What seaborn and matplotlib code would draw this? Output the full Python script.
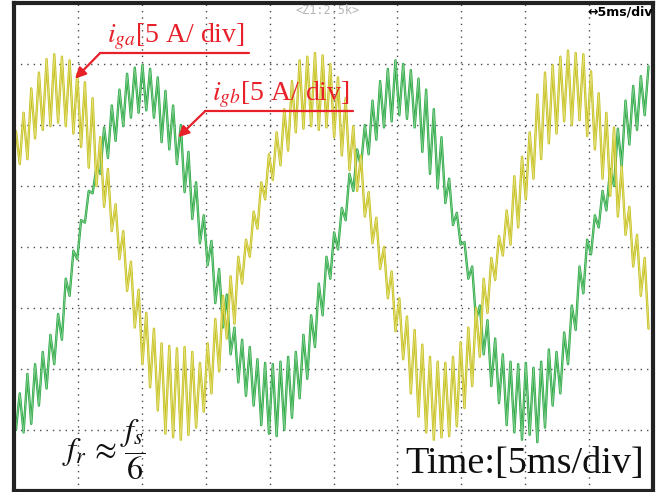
import numpy as np
import pandas as pd
import matplotlib
matplotlib.use('Agg')
import matplotlib.pyplot as plt
import matplotlib.patheffects as pe
import seaborn as sns

# 示波器采样：0.3 ms 一个点，从 0.15 ms 开始
t0_ms = 0.15
dt_ms = 0.3

# i_ga 读数 [A]（黄色）
i_ga = [
    9.5, 6.8, 11.0, 7.2, 13.0, 8.9, 14.3, 9.6, 15.4, 9.9,
    15.8, 10.2, 15.6, 9.9, 15.3, 9.3, 14.2, 8.2, 13.5, 6.5,
    12.2, 5.0, 9.0, 3.3, 6.4, 1.3, 3.5, -1.0, 1.3, -3.6,
    -1.2, -6.6, -3.5, -9.6, -5.4, -11.5, -6.7, -13.4, -7.9, -15.3,
    -8.1, -15.6, -8.3, -15.8, -8.2, -15.4, -8.6, -14.8, -9.5, -13.5,
    -7.9, -12.0, -5.9, -10.2, -4.0, -7.5, -2.4, -6.3, -0.8, -3.0,
    0.6, -0.8, 2.9, 1.5, 5.3, 3.9, 7.6, 5.5, 9.4, 6.7,
    11.3, 7.9, 13.6, 9.4, 15.3, 9.7, 15.6, 9.9, 15.9, 9.6,
    15.7, 9.8, 15.0, 9.0, 13.9, 7.5, 12.2, 6.3, 9.9, 4.6,
    7.5, 2.5, 4.5, 0.3, 2.4, -1.8, 0.0, -4.2, -2.0, -6.9,
    -4.2, -9.2, -5.7, -12.0, -6.8, -13.9, -8.0, -15.2, -9.0, -15.8,
    -9.4, -15.6, -9.5, -15.5, -9.0, -14.7, -7.8, -13.2, -6.6, -11.4,
    -5.0, -9.0, -2.6, -5.4, -0.9, -2.7, 0.9, -0.7, 3.0, 0.2,
    5.8, 1.6, 7.4, 3.9, 9.4, 5.6, 12.5, 7.2, 14.3, 8.5,
    14.9, 9.3, 15.6, 10.3, 16.1, 10.0, 15.9, 10.4, 15.8, 9.1,
    14.4, 8.0, 12.6, 5.6, 11.0, 4.2, 9.8, 2.5, 6.6, 1.0,
    3.3, -1.6, 1.0, -4.0, -0.9, -6.7,
]

# i_gb 读数 [A]（绿色）
i_gb = [
    -15.0, -12.0, -15.2, -10.4, -14.5, -9.6, -13.0, -8.6, -11.6, -7.2,
    -9.6, -5.5, -7.6, -2.6, -4.0, -0.3, -1.0, 2.2, 2.0, 4.6,
    4.4, 6.5, 6.0, 9.8, 7.3, 11.6, 8.7, 12.9, 9.9, 14.2,
    10.6, 14.7, 11.0, 14.9, 11.2, 14.6, 10.6, 13.9, 8.6, 12.8,
    8.0, 11.6, 6.8, 10.0, 4.5, 7.8, 2.3, 5.3, 0.3, 2.6,
    -1.5, 0.5, -4.6, -1.8, -6.6, -3.9, -8.8, -6.6, -11.1, -7.6,
    -12.2, -8.2, -13.0, -9.2, -14.6, -9.5, -15.3, -9.6, -15.5, -9.4,
    -15.0, -9.0, -14.0, -8.6, -12.4, -7.2, -10.8, -5.6, -8.2, -3.0,
    -5.6, -0.8, -2.6, 1.2, -0.2, 3.2, 2.2, 6.0, 4.6, 8.0,
    6.6, 10.0, 7.6, 12.0, 8.8, 13.6, 9.8, 14.6, 10.3, 15.3,
    10.8, 15.0, 10.5, 14.5, 9.8, 13.8, 7.8, 12.9, 6.0, 11.3,
    4.8, 9.0, 3.6, 5.6, 1.8, 2.8, 0.2, 0.4, -2.6, -1.6,
    -6.0, -4.8, -8.8, -6.0, -11.4, -7.5, -12.8, -8.8, -14.6, -9.4,
    -15.2, -9.6, -15.8, -9.5, -15.4, -9.9, -16.0, -9.4, -14.8, -8.4,
    -13.0, -8.6, -12.0, -7.0, -9.6, -4.8, -6.8, -1.6, -3.8, 0.6,
    -0.6, 2.6, 1.6, 4.6, 3.0, 6.4, 5.0, 9.7, 6.6, 12.0,
    8.4, 13.2, 9.6, 14.0, 10.8, 14.8,
]

t_ms = t0_ms + dt_ms * np.arange(len(i_ga))
df = pd.DataFrame({'t': t_ms, 'i_ga': i_ga, 'i_gb': i_gb})

sns.set_theme(style='white')
plt.rcParams['font.family'] = ['Liberation Serif', 'DejaVu Serif']
plt.rcParams['mathtext.fontset'] = 'stix'

fig = plt.figure(figsize=(6.59, 4.92), dpi=100)
ax = fig.add_axes([14 / 659, 1 / 492, 639 / 659, 488 / 492])

sns.lineplot(data=df, x='t', y='i_gb', ax=ax, color='#86d092', lw=0.6,
             estimator=None, sort=False,
             path_effects=[pe.Stroke(linewidth=1.7, foreground='#2aa843'), pe.Normal()])
sns.lineplot(data=df, x='t', y='i_ga', ax=ax, color='#e4e17c', lw=0.6,
             estimator=None, sort=False,
             path_effects=[pe.Stroke(linewidth=1.7, foreground='#c4bf1e'), pe.Normal()])

ax.set_xlim(0, 50)
ax.set_ylim(-20, 20)
ax.set_xticks(np.arange(5, 50, 5))
ax.set_yticks(np.arange(-15, 20, 5))
ax.tick_params(length=0, labelbottom=False, labelleft=False)
ax.set_xlabel('')
ax.set_ylabel('')
ax.grid(True, color='#4a4a4a', lw=1.0, linestyle=(0, (1, 3.6)))
ax.set_axisbelow(True)
for s in ax.spines.values():
    s.set_color('#222222')
    s.set_linewidth(3.0)

red = '#e8202a'
ax.text(7.3, 16.8, r'$i_{ga}$[5 A/ div]', color=red, fontsize=20, va='baseline')
ax.plot([6.74, 18.4], [15.9, 15.9], color=red, lw=1.6)
ax.annotate('', xy=(4.78, 13.8), xytext=(6.74, 15.9),
            arrowprops=dict(arrowstyle='-|>', color=red, lw=1.6, mutation_scale=16,
                            shrinkA=0, shrinkB=0))

ax.text(15.5, 12.05, r'$i_{gb}$[5 A/ div]', color=red, fontsize=20, va='baseline')
ax.plot([14.97, 26.5], [11.15, 11.15], color=red, lw=1.6)
ax.annotate('', xy=(12.85, 9.0), xytext=(14.97, 11.15),
            arrowprops=dict(arrowstyle='-|>', color=red, lw=1.6, mutation_scale=16,
                            shrinkA=0, shrinkB=0))

ax.text(3.76, -17.4, r'$f_r\,\approx\,\dfrac{f_s}{6}$', color='#111111', fontsize=23,
        va='baseline')
ax.text(49.3, -18.5, 'Time:[5ms/div]', color='#111111', fontsize=27.5,
        ha='right', va='baseline')

ax.text(24.5, 19.35, '<Z1:2.5k>', color='#b5b5b5', fontsize=8.5, ha='center',
        va='center', family='DejaVu Sans Mono')
ax.text(44.9, 19.3, '\u21945ms/div', color='black', fontsize=9, ha='left',
        va='center', family='DejaVu Sans', weight='bold')

fig.savefig('out.png', dpi=100, facecolor='white')
